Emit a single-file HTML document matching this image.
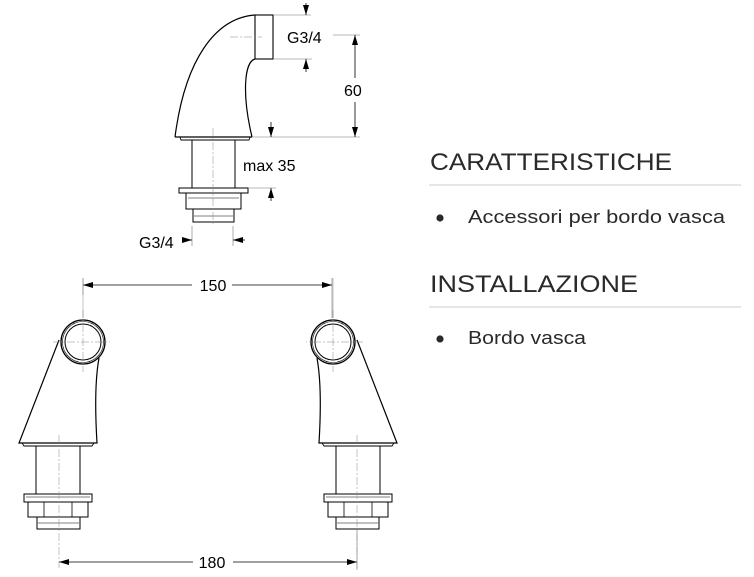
<!DOCTYPE html>
<html><head><meta charset="utf-8"><style>
html,body{margin:0;padding:0;background:#fff;width:754px;height:577px;overflow:hidden}
svg{display:block}
</style></head><body>
<svg width="754" height="577" viewBox="0 0 754 577" xmlns="http://www.w3.org/2000/svg" font-family="Liberation Sans, sans-serif">
<defs>
<marker id="a" viewBox="0 0 10 6" refX="10" refY="3" markerWidth="10" markerHeight="6" orient="auto" markerUnits="userSpaceOnUse"><path d="M0,0 L10,3 L0,6 Z" fill="#000"/></marker>
<g id="side">
  <path d="M59,340 L19,443 L97,443 C95,410 95,380 99,358" fill="none" stroke="#000" stroke-width="1.2"/>
  <path d="M22,443 L24,446 L92,446 L94,443" fill="none" stroke="#000" stroke-width="0.9"/>
  <circle cx="83" cy="342" r="22" fill="#fff" stroke="#000" stroke-width="1.3"/>
  <circle cx="83" cy="342" r="20.5" fill="none" stroke="#000" stroke-width="0.6"/>
  <circle cx="83" cy="342" r="18" fill="none" stroke="#000" stroke-width="1"/>
  <line x1="53" y1="342" x2="110" y2="342" stroke="#888" stroke-width="0.5" stroke-dasharray="8,2,2,2"/>
  <line x1="83" y1="310" x2="83" y2="372" stroke="#888" stroke-width="0.5" stroke-dasharray="8,2,2,2"/>
  <rect x="36" y="446" width="44" height="48" fill="none" stroke="#000" stroke-width="1"/>
  <rect x="24" y="494" width="68" height="8" fill="none" stroke="#000" stroke-width="1"/>
  <line x1="26" y1="497" x2="90" y2="497" stroke="#000" stroke-width="0.5"/>
  <rect x="28" y="502" width="60" height="15" fill="none" stroke="#000" stroke-width="1"/>
  <line x1="44" y1="502" x2="44" y2="517" stroke="#000" stroke-width="0.8"/>
  <line x1="72" y1="502" x2="72" y2="517" stroke="#000" stroke-width="0.8"/>
  <rect x="37" y="517" width="43" height="12" fill="none" stroke="#000" stroke-width="1"/>
  <line x1="38" y1="523" x2="79" y2="523" stroke="#000" stroke-width="0.5"/>
  <line x1="59" y1="435" x2="59" y2="568" stroke="#888" stroke-width="0.5" stroke-dasharray="8,2,2,2"/>
  <line x1="83" y1="278" x2="83" y2="318" stroke="#888" stroke-width="0.5"/>
</g>
</defs>

<g fill="none" stroke="#000">
  <path d="M255,15 C215,18 185,60 175,137" stroke-width="1.2"/>
  <path d="M255,59 C244,62 242,95 252,137" stroke-width="1.2"/>
  <line x1="175" y1="137" x2="252" y2="137" stroke-width="1.2"/>
  <path d="M180,137 L181,140 L249,140 L250,137" stroke-width="0.9"/>
  <rect x="255" y="15" width="18" height="44" stroke-width="1.1"/>
  <line x1="255" y1="17" x2="255" y2="57" stroke-width="0.6"/>
  <rect x="192" y="140" width="43" height="48" stroke-width="1"/>
  <rect x="179" y="188" width="69" height="5" stroke-width="1"/>
  <rect x="186" y="193" width="55" height="16" stroke-width="1"/>
  <line x1="188" y1="198" x2="239" y2="198" stroke-width="0.5"/>
  <rect x="193" y="209" width="41" height="13" stroke-width="1"/>
  <line x1="194" y1="216" x2="233" y2="216" stroke-width="0.5"/>
</g>
<line x1="213" y1="128" x2="213" y2="226" stroke="#888" stroke-width="0.5" stroke-dasharray="8,2,2,2"/>
<line x1="230" y1="37" x2="262" y2="37" stroke="#888" stroke-width="0.5" stroke-dasharray="8,2,2,2"/>
<g stroke="#777" stroke-width="0.6">
  <line x1="273" y1="15" x2="311" y2="15"/>
  <line x1="273" y1="59" x2="312" y2="59"/>
  <line x1="333" y1="35" x2="360" y2="35"/>
  <line x1="252" y1="137" x2="360" y2="137"/>
  <line x1="248" y1="188" x2="276" y2="188"/>
  <line x1="192" y1="226" x2="192" y2="246"/>
  <line x1="233" y1="226" x2="233" y2="246"/>
  <line x1="83" y1="278" x2="83" y2="295"/>
  <line x1="332" y1="278" x2="332" y2="318"/>
  <line x1="357" y1="530" x2="357" y2="570"/>
</g>
<g stroke="#000" stroke-width="0.8">
  <line x1="306" y1="3" x2="306" y2="15" marker-end="url(#a)"/>
  <line x1="306" y1="72" x2="306" y2="59" marker-end="url(#a)"/>
  <line x1="355" y1="78" x2="355" y2="35" marker-end="url(#a)"/>
  <line x1="355" y1="102" x2="355" y2="137" marker-end="url(#a)"/>
  <line x1="271" y1="122" x2="271" y2="137" marker-end="url(#a)"/>
  <line x1="271" y1="201" x2="271" y2="188" marker-end="url(#a)"/>
  <line x1="182" y1="240" x2="192" y2="240" marker-end="url(#a)"/>
  <line x1="245" y1="240" x2="233" y2="240" marker-end="url(#a)"/>
  <line x1="192" y1="285" x2="83" y2="285" marker-end="url(#a)"/>
  <line x1="232" y1="285" x2="332" y2="285" marker-end="url(#a)"/>
  <line x1="193" y1="562" x2="59" y2="562" marker-end="url(#a)"/>
  <line x1="233" y1="562" x2="357" y2="562" marker-end="url(#a)"/>
</g>
<g font-size="16" fill="#000">
  <text x="287" y="43">G3/4</text>
  <text x="344" y="96">60</text>
  <text x="243" y="171">max 35</text>
  <text x="139" y="248">G3/4</text>
  <text x="213" y="291" text-anchor="middle">150</text>
  <text x="212" y="568" text-anchor="middle">180</text>
</g>

<use href="#side"/>
<use href="#side" transform="translate(416,0) scale(-1,1)"/>

<g fill="#2a2a2a">
  <text x="430" y="170" font-size="24" textLength="242" lengthAdjust="spacingAndGlyphs">CARATTERISTICHE</text>
  <line x1="429" y1="185" x2="741" y2="185" stroke="#d8d8d8" stroke-width="1.2"/>
  <circle cx="440" cy="218" r="3.6"/>
  <text x="468" y="223" font-size="18" textLength="257" lengthAdjust="spacingAndGlyphs">Accessori per bordo vasca</text>
  <text x="430" y="292" font-size="24" textLength="208" lengthAdjust="spacingAndGlyphs">INSTALLAZIONE</text>
  <line x1="429" y1="307" x2="741" y2="307" stroke="#d8d8d8" stroke-width="1.2"/>
  <circle cx="440" cy="339" r="3.6"/>
  <text x="468" y="344" font-size="18" textLength="118" lengthAdjust="spacingAndGlyphs">Bordo vasca</text>
</g>
</svg>
</body></html>
